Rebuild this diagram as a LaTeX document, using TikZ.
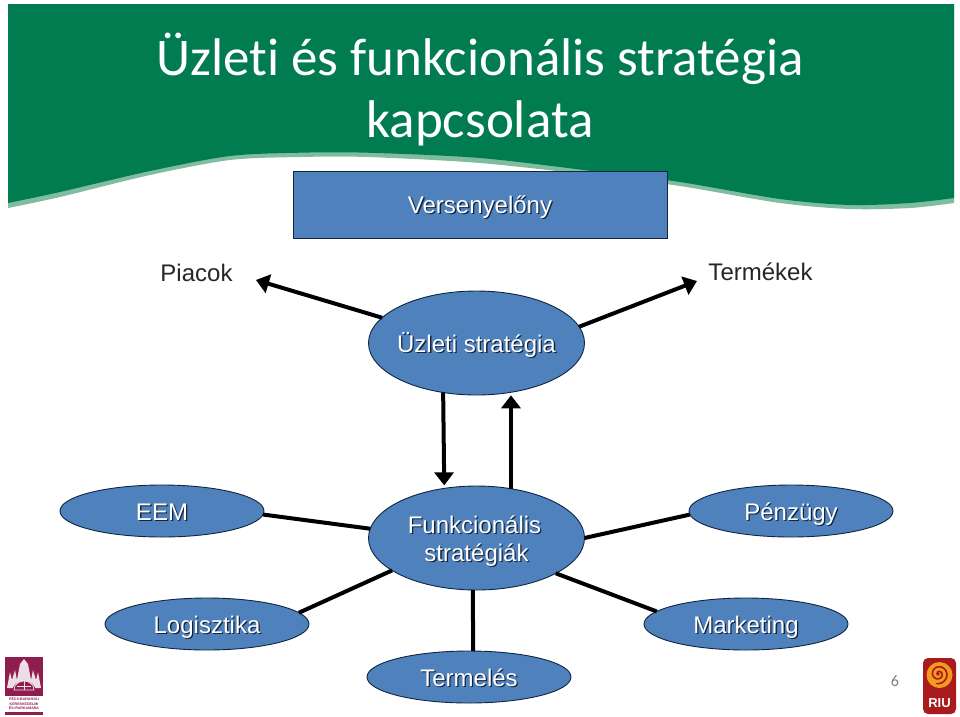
\documentclass[tikz,border=0pt]{standalone}
\usepackage{fontspec}
\setmainfont{Liberation Sans}
\newfontfamily\titlefont[Ligatures=NoCommon]{Carlito}
\usetikzlibrary{shapes.geometric,arrows.meta}
\definecolor{bannergreen}{HTML}{007C50}
\definecolor{bannerlight}{HTML}{7FBDA0}
\definecolor{boxblue}{HTML}{4F81BD}
\definecolor{boxedge}{HTML}{10253F}
\definecolor{shadowc}{HTML}{16243A}
\definecolor{labelc}{HTML}{262626}
\definecolor{maroon}{HTML}{8F1D4E}
\definecolor{riured}{HTML}{A81A1C}
\definecolor{riuorange}{HTML}{F39A1E}
\newcommand{\shtxt}[1]{\makebox[0pt][c]{\raisebox{-9pt}[0pt][0pt]{\rlap{\kern1.3pt\raisebox{-1.3pt}{\textcolor{shadowc}{#1}}}\textcolor{white}{#1}}}}
\tikzset{
  x=1pt,y=-1pt,
  blueell/.style={ellipse,draw=boxedge,fill=boxblue,line width=0.9pt,inner sep=0pt,outer sep=0pt,font=\fontsize{24}{28}\selectfont,align=center},
  bigell/.style={blueell,minimum width=216pt,minimum height=104pt},
  smallell/.style={blueell,minimum width=204pt,minimum height=52pt},
  conn/.style={line width=4pt,black},
  arrowconn/.style={conn,-{Triangle[length=13pt,width=19pt]}},
  sidelabel/.style={text=labelc,font=\fontsize{24}{28}\selectfont,inner sep=0pt},
}
\begin{document}
\begin{tikzpicture}
\useasboundingbox (0,0) rectangle (960,716);
\fill[white] (0,0) rectangle (960,716);
% banner
\fill[bannerlight] (8,4) -- plot[smooth] coordinates {(8,208) (60,197) (150,175) (230,160) (300,157) (367,157) (480,163) (600,176) (680,186) (780,203) (850,209) (910,208) (954,203)} -- (954,4) -- cycle;
\fill[bannergreen] (8,4) -- plot[smooth] coordinates {(8,203) (60,192) (150,171) (230,156) (300,152.7) (367,152.7) (480,158) (600,172) (680,182) (780,199) (850,205) (910,203) (954,198)} -- (954,4) -- cycle;
\node[text=white,font=\titlefont\fontsize{53}{62}\selectfont,align=center,inner sep=0pt] (title) at (480,90) {Üzleti és funkcionális stratégia\\kapcsolata};
% box
\node[draw=boxedge,fill=boxblue,line width=1pt,minimum width=374pt,minimum height=67pt,inner sep=0pt,font=\fontsize{24}{28}\selectfont] (adv) at (480,204.5) {\shtxt{Versenyelőny}};
\node[sidelabel] (piacok) at (196.5,273) {Piacok};
\node[sidelabel] (termekek) at (760.5,272) {Termékek};
\coordinate (piacokend) at (256,280);
\coordinate (termekekend) at (697,281);
% ellipses
\node[bigell] (biz) at (476.5,343) {\shtxt{Üzleti stratégia}};
\node[bigell] (func) at (476.5,538) {\kern-4pt\shtxt{Funkcionális}\\\shtxt{stratégiák}};
\node[smallell] (eem) at (162,511) {\shtxt{EEM}};
\node[smallell] (penz) at (791,511) {\shtxt{Pénzügy}};
\node[smallell] (log) at (207,624) {\shtxt{Logisztika}};
\node[smallell] (mark) at (746,624) {\shtxt{Marketing}};
\node[smallell] (term) at (469,677) {\shtxt{Termelés}};
% connectors
\draw[arrowconn] (biz.165.4) -- (piacokend);
\draw[arrowconn] (biz.9.2) -- (termekekend);
\draw[arrowconn,shorten >=3pt] (biz.236.3) -- (func.123.7);
\draw[arrowconn,shorten >=3pt] (func.55.5) -- (biz.-55.5);
\draw[conn] (func.175.8) -- (eem.-2.2);
\draw[conn] (func.0.5) -- (penz.182.3);
\draw[conn] (func.201.4) -- (log.7.3);
\draw[conn] (func.-24.8) -- (mark.172.6);
\draw[conn] (func.266.8) -- (term.81.3);
% left logo
\fill[maroon] (5,657) rectangle (43,696);
\fill[white!85!maroon] (7,688) -- (10,672) -- (12,680) -- (15,670) -- (17,680) -- (20,664) -- (24,659) -- (28,664) -- (31,680) -- (33,670) -- (36,680) -- (38,672) -- (41,688) -- cycle;
\fill[maroon] (12,692) arc[start angle=180,end angle=0,x radius=12,y radius=-11] -- cycle;
\draw[white!85!maroon,line width=0.7pt] (14,690) arc[start angle=180,end angle=0,x radius=10,y radius=-9] -- cycle;
\draw[white!85!maroon,line width=0.5pt] (24,681) -- (24,690) (17,686) -- (31,686);
\node[text=maroon,font=\fontsize{3.6}{4.6}\selectfont\bfseries,align=center,inner sep=0pt] (cham) at (24,703.5) {PÉCS-BARANYAI\\KERESKEDELMI\\ÉS IPARKAMARA};
\fill[maroon] (5,711.5) rectangle (43,715);
% page number
\node[text=gray,font=\titlefont\fontsize{16}{18}\selectfont,inner sep=0pt] (pnum) at (895,681) {6};
% right logo
\fill[riured,rounded corners=5pt] (923,658) rectangle (956,714);
\fill[riuorange] (939.5,675) ellipse[x radius=13,y radius=13];
\draw[riured,line width=1.6pt,line cap=round] plot[smooth,domain=0:620,samples=40] ({938.5+(1.5+\x/75)*cos(\x+200)},{674+(1.5+\x/75)*sin(\x+200)});
\fill[riured] (938,674) circle[radius=1.8];
\node[text=white,font=\fontsize{13}{14}\selectfont\bfseries,inner sep=0pt] (riu) at (939.5,703) {RIU};
\end{tikzpicture}
\end{document}
